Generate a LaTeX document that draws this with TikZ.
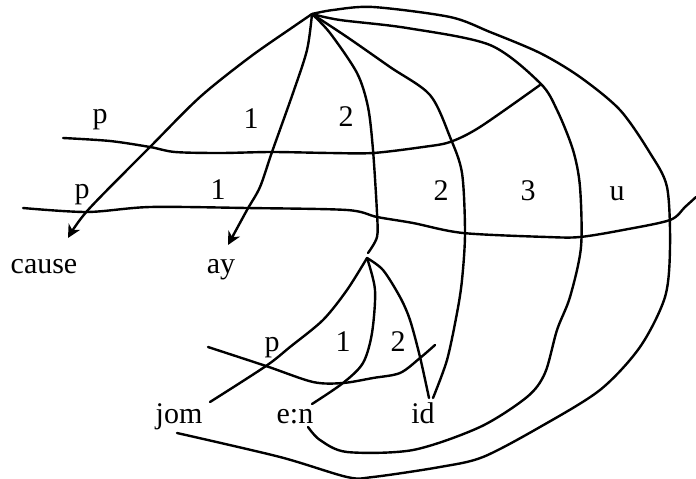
\documentclass[tikz,border=0pt]{standalone}
\usepackage{fontspec}
\setmainfont{Liberation Serif}
\usetikzlibrary{arrows.meta}
\begin{document}
\begin{tikzpicture}[x=1pt,y=-1pt,
  stroke/.style={line width=2.4pt,line cap=round,line join=round},
  curve/.style={stroke},
  arr/.style={stroke,-{Stealth[length=13pt,width=13pt,inset=4pt]}},
  lbl/.style={font=\fontsize{30}{34}\selectfont,anchor=base,inner sep=0pt}]
\useasboundingbox (0,0) rectangle (696,479);
% named points
\coordinate (R) at (312,14);
\coordinate (A) at (367,258);
% text labels
\node[lbl] (cause) at (44,273) {cause};
\node[lbl] (ay) at (221,273) {ay};
\node[lbl] (jom) at (179,423) {jom};
\node[lbl] (en) at (295,423) {e:n};
\node[lbl] (id) at (423,423) {id};
\node[lbl] (p1) at (100,123) {p};
\node[lbl] (o1) at (251,128) {1};
\node[lbl] (t1) at (346,126) {2};
\node[lbl] (p2) at (82,198) {p};
\node[lbl] (o2) at (218,199) {1};
\node[lbl] (t2) at (441,200) {2};
\node[lbl] (h2) at (528,200) {3};
\node[lbl] (u2) at (617,200) {u};
\node[lbl] (p3) at (272,351) {p};
\node[lbl] (o3) at (343,351) {1};
\node[lbl] (t3) at (398,351) {2};
% end points of strokes
\coordinate (causeTip) at (68,238);
\coordinate (ayTip) at (228,245);
\coordinate (jomEnd) at (210,402);
\coordinate (enEnd) at (312,404);
\coordinate (idEnd) at (429,398);
\coordinate (idEndB) at (433,398);
\coordinate (enLow) at (308,427);
\coordinate (jomLow) at (177,433);
% arrows from the root
\draw[arr] plot[smooth,tension=0.5] coordinates {(R) (293,27) (250,57) (200,97) (150,147) (88,210) (causeTip)};
\draw[arr] plot[smooth,tension=0.5] coordinates {(R) (307,50) (293,93) (272,152) (260,187) (247,210) (ayTip)};
% curves from the root
\draw[curve] plot[smooth,tension=0.5] coordinates {(R) (330,33) (357,73) (368,107) (373,150) (377,213) (377,237) (368,253)};
\draw[curve] plot[smooth,tension=0.5] coordinates {(R) (347,37) (390,67) (430,95) (450,137) (462,173) (465,233) (462,280) (457,313) (447,360) (idEndB)};
\draw[curve] plot[smooth,tension=0.5] coordinates {(R) (340,20) (407,28) (490,45) (540,83) (557,110) (573,150) (580,187) (581,247) (570,297) (557,330) (545,373) (527,397) (480,427) (413,450) (347,452) (320,440) (enLow)};
\draw[curve] plot[smooth,tension=0.5] coordinates {(R) (333,10) (373,7) (450,17) (490,32) (540,53) (580,77) (620,110) (650,153) (667,187) (670,247) (665,297) (640,347) (600,390) (540,427) (483,457) (440,467) (373,477) (347,477) (280,457) (jomLow)};
% horizontal strokes
\draw[curve] plot[smooth,tension=0.5] coordinates {(63,138) (110,141) (150,147) (175,152) (220,153) (272,152) (330,153) (373,153) (423,147) (450,142) (480,127) (540,85)};
\draw[curve] plot[smooth,tension=0.5] coordinates {(23,208) (87,212) (150,207) (247,208) (347,210) (377,217) (413,223) (463,233) (547,237) (580,237) (623,230) (670,220) (685,207) (696,197)};
% lower part
\draw[curve] plot[smooth,tension=0.5] coordinates {(A) (347,290) (323,320) (290,347) (266,366) (jomEnd)};
\draw[curve] plot[smooth,tension=0.5] coordinates {(A) (375,290) (372,333) (363,363) (343,383) (enEnd)};
\draw[curve] plot[smooth,tension=0.5] coordinates {(A) (383,270) (400,297) (410,320) (420,357) (idEnd)};
\draw[curve] plot[smooth,tension=0.5] coordinates {(208,347) (266,366) (313,382) (343,383) (373,378) (400,373) (420,358) (435,345)};
\end{tikzpicture}
\end{document}
